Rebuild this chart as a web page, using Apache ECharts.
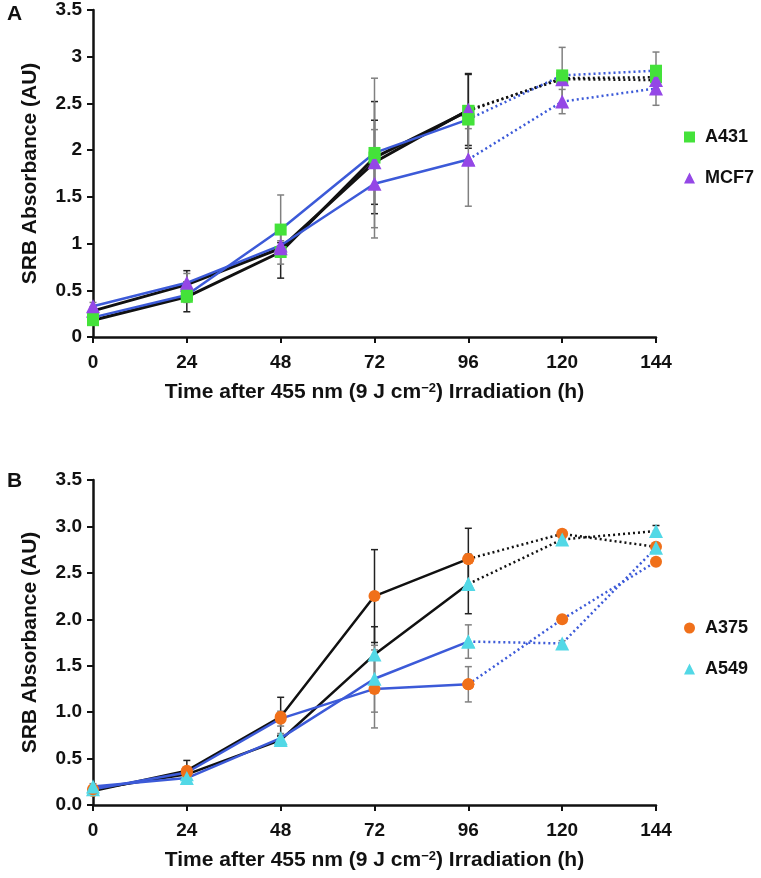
<!DOCTYPE html>
<html>
<head>
<meta charset="utf-8">
<script src="https://cdn.jsdelivr.net/npm/echarts@6/dist/echarts.min.js"></script>
<style>
  html, body { margin: 0; padding: 0; background: #fff; }
  #chart { width: 761px; height: 878px; }
</style>
</head>
<body>
<div id="chart"></div>
<script>
const hours = [0, 24, 48, 72, 96, 120, 144];
const yTicksA = ['0', '0.5', '1', '1.5', '2', '2.5', '3', '3.5'];
const yTicksB = ['0.0', '0.5', '1.0', '1.5', '2.0', '2.5', '3.0', '3.5'];

// panel A
const a431Dark = [0.18, 0.43, 0.91, 1.92, 2.42, 2.77, 2.78];
const a431DarkErr = [0.04, 0.16, 0.28, 0.6, 0.4, 0.05, 0.05];
const a431Light = [0.21, 0.45, 1.15, 1.97, 2.33, 2.80, 2.85];
const a431LightErr = [0.03, 0.08, 0.37, 0.8, 0.1, 0.3, 0.2];
const mcf7Dark = [0.28, 0.56, 0.95, 1.87, 2.43, 2.76, 2.75];
const mcf7DarkErr = [0.04, 0.15, 0.06, 0.45, 0.38, 0.05, 0.05];
const mcf7Light = [0.33, 0.58, 0.98, 1.64, 1.90, 2.52, 2.66];
const mcf7LightErr = [0.04, 0.1, 0.05, 0.58, 0.5, 0.13, 0.18];

// panel B
const a375Dark = [0.15, 0.37, 0.95, 2.25, 2.65, 2.92, 2.78];
const a375DarkErr = [0.03, 0.11, 0.21, 0.5, 0.33, 0.04, 0.04];
const a549Dark = [0.17, 0.33, 0.70, 1.62, 2.38, 2.86, 2.95];
const a549DarkErr = [0.03, 0.05, 0.05, 0.3, 0.32, 0.04, 0.06];
const a375Light = [0.17, 0.35, 0.93, 1.25, 1.30, 2.00, 2.62];
const a375LightErr = [0.03, 0.05, 0.08, 0.42, 0.19, 0.03, 0.04];
const a549Light = [0.20, 0.29, 0.72, 1.36, 1.76, 1.74, 2.77];
const a549LightErr = [0.03, 0.04, 0.05, 0.36, 0.18, 0.03, 0.04];

const FONT = '"Liberation Sans", Arial, sans-serif';
const GREEN = '#44e23a', PURPLE = '#9447e6', ORANGE = '#f0701a', CYAN = '#52d8e6';
const BLACK = '#111111', BLUE = '#3c5ad8';

const series = [];

function addLine(name, vals, lineColor, markColor, symbol, g, width) {
  const base = {
    type: 'line', name: name, xAxisIndex: g, yAxisIndex: g,
    symbol: symbol, symbolSize: symbol === 'triangle' ? 14 : 12,
    itemStyle: { color: markColor },
    z: 3
  };
  series.push(Object.assign({}, base, {
    data: hours.slice(0, 5).map((h, i) => [h, vals[i]]),
    lineStyle: { color: lineColor, width: width }
  }));
  series.push(Object.assign({}, base, {
    data: hours.slice(4).map((h, i) => [h, vals[i + 4]]),
    lineStyle: { color: lineColor, width: 2.5, type: [2, 3] }
  }));
}

function addErrors(g, list) {
  const data = [];
  list.forEach(([vals, errs, color]) => {
    hours.forEach((h, i) => {
      data.push({ value: [h, vals[i] - errs[i], vals[i] + errs[i]], itemStyle: { color: color } });
    });
  });
  series.push({
    type: 'custom', xAxisIndex: g, yAxisIndex: g, z: 2, silent: true,
    data: data,
    encode: { x: 0, y: [1, 2] },
    renderItem: function (params, api) {
      const lo = api.coord([api.value(0), api.value(1)]);
      const hi = api.coord([api.value(0), api.value(2)]);
      const st = { stroke: api.visual('color'), lineWidth: 1.5 };
      return {
        type: 'group',
        children: [
          { type: 'line', shape: { x1: lo[0], y1: lo[1], x2: hi[0], y2: hi[1] }, style: st },
          { type: 'line', shape: { x1: lo[0] - 3.5, y1: lo[1], x2: lo[0] + 3.5, y2: lo[1] }, style: st },
          { type: 'line', shape: { x1: hi[0] - 3.5, y1: hi[1], x2: hi[0] + 3.5, y2: hi[1] }, style: st }
        ]
      };
    }
  });
}

addErrors(0, [
  [a431Dark, a431DarkErr, '#222'], [mcf7Dark, mcf7DarkErr, '#222'],
  [a431Light, a431LightErr, '#808080'], [mcf7Light, mcf7LightErr, '#808080']
]);
addErrors(1, [
  [a375Dark, a375DarkErr, '#222'], [a549Dark, a549DarkErr, '#222'],
  [a375Light, a375LightErr, '#808080'], [a549Light, a549LightErr, '#808080']
]);

addLine('A431', a431Dark, BLACK, GREEN, 'rect', 0, 3);
addLine('MCF7', mcf7Dark, BLACK, PURPLE, 'triangle', 0, 3);
addLine('A431', a431Light, BLUE, GREEN, 'rect', 0, 2.5);
addLine('MCF7', mcf7Light, BLUE, PURPLE, 'triangle', 0, 2.5);

addLine('A375', a375Dark, BLACK, ORANGE, 'circle', 1, 2.5);
addLine('A549', a549Dark, BLACK, CYAN, 'triangle', 1, 2.5);
addLine('A375', a375Light, BLUE, ORANGE, 'circle', 1, 2.5);
addLine('A549', a549Light, BLUE, CYAN, 'triangle', 1, 2.5);

function xAxis(g) {
  return {
    type: 'value', gridIndex: g, min: 0, max: 144, interval: 24,
    name: 'Time after 455 nm (9 J cm{sup|\u22122}) Irradiation (h)',
    nameLocation: 'middle', nameGap: 45,
    nameTextStyle: {
      fontFamily: FONT, fontSize: 21, fontWeight: 'bold', color: '#111',
      rich: { sup: { fontFamily: FONT, fontSize: 13, fontWeight: 'bold', color: '#111', verticalAlign: 'top', padding: [0, 0, 8, 0] } }
    },
    axisLine: { show: true, lineStyle: { color: '#111', width: 2.5 } },
    axisTick: { show: true, length: 6, lineStyle: { color: '#111', width: 2 } },
    axisLabel: { margin: 16, fontFamily: FONT, fontSize: 19, fontWeight: 'bold', color: '#111' },
    splitLine: { show: false }
  };
}

function yAxis(g, ticks) {
  return {
    type: 'value', gridIndex: g, min: 0, max: 3.5, interval: 0.5,
    name: 'SRB Absorbance (AU)', nameLocation: 'middle', nameGap: 52,
    nameTextStyle: { fontFamily: FONT, fontSize: 21, fontWeight: 'bold', color: '#111' },
    axisLine: { show: true, lineStyle: { color: '#111', width: 2.5 } },
    axisTick: { show: true, length: 6, lineStyle: { color: '#111', width: 2 } },
    axisLabel: {
      margin: 11, fontFamily: FONT, fontSize: 19, fontWeight: 'bold', color: '#111',
      formatter: (v) => ticks[Math.round(v / 0.5)]
    },
    splitLine: { show: false }
  };
}

function legend(items, top) {
  return {
    orient: 'vertical', left: 679, top: top, itemGap: 21,
    itemWidth: 11, itemHeight: 11, selectedMode: false,
    textStyle: { fontFamily: FONT, fontSize: 18, fontWeight: 'bold', color: '#111', lineHeight: 20, padding: [0, 0, 0, 5] },
    data: items.map(([name, icon, color]) => ({ name: name, icon: icon, itemStyle: { color: color } }))
  };
}

const option = {
  animation: false,
  backgroundColor: '#fff',
  grid: [
    { left: 93, top: 10, width: 563, height: 327 },
    { left: 93, top: 480, width: 563, height: 325 }
  ],
  xAxis: [xAxis(0), xAxis(1)],
  yAxis: [yAxis(0, yTicksA), yAxis(1, yTicksB)],
  legend: [
    legend([['A431', 'rect', GREEN], ['MCF7', 'triangle', PURPLE]], 122),
    legend([['A375', 'circle', ORANGE], ['A549', 'triangle', CYAN]], 613)
  ],
  graphic: [
    { type: 'text', left: 7, top: 4, style: { text: 'A', font: 'bold 21px ' + FONT, fill: '#111' } },
    { type: 'text', left: 7, top: 471, style: { text: 'B', font: 'bold 21px ' + FONT, fill: '#111' } }
  ],
  series: series
};

const myChart = echarts.init(document.getElementById('chart'));
myChart.setOption(option);
window.addEventListener('resize', () => {
  myChart.resize();
});
</script>
</body>
</html>
